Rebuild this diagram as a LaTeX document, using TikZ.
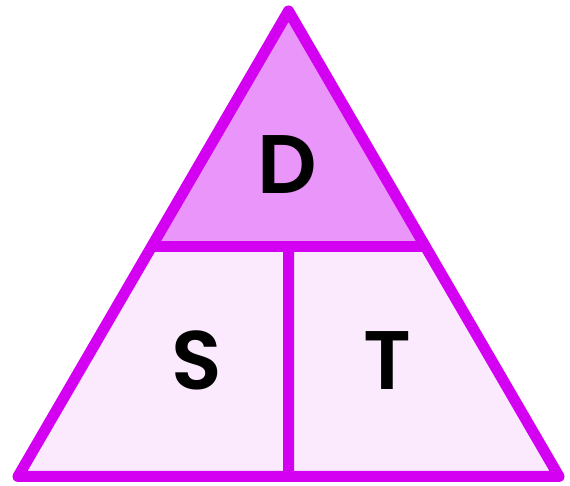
\documentclass[tikz,border=0pt]{standalone}
\usepackage{fontspec}
\usetikzlibrary{calc}
\newfontfamily\pop{Poppins}[BoldFont={* SemiBold}]
\definecolor{strokec}{HTML}{D400F2}
\definecolor{topc}{HTML}{EA95F9}
\definecolor{botc}{HTML}{FBE9FD}
\tikzset{
  edge/.style={draw=strokec, line width=11pt, line join=round, line cap=round},
  letter/.style={font=\pop\bfseries\fontsize{83}{90}\selectfont, anchor=base, inner sep=0pt, text=black}
}
\begin{document}
\begin{tikzpicture}[x=1pt,y=1pt]
\useasboundingbox (0,0) rectangle (570,486);
\coordinate (A) at (288.5,475);
\coordinate (L) at (18,9.5);
\coordinate (R) at (559,9.5);
\path (L) -- (A) coordinate[pos=0.494] (HL);
\path (R) -- (A) coordinate[pos=0.494] (HR);
\coordinate (HM) at ($(HL)!0.5!(HR)$);
\coordinate (BM) at (288.5,9.5);
% fills
\fill[botc] (L) -- (R) -- (HR) -- (HL) -- cycle;
\fill[topc] (HL) -- (HR) -- (A) -- cycle;
% lines
\draw[edge] (L) -- (R) -- (A) -- cycle;
\draw[edge, line cap=butt] (HL) -- (HR);
\draw[edge, line cap=butt] (HM) -- (BM);
\node[letter] (D) at (287.5,292.7) {D};
\node[letter] (S) at (196.5,96) {S};
\node[letter] (T) at (387,96) {T};
\end{tikzpicture}
\end{document}
